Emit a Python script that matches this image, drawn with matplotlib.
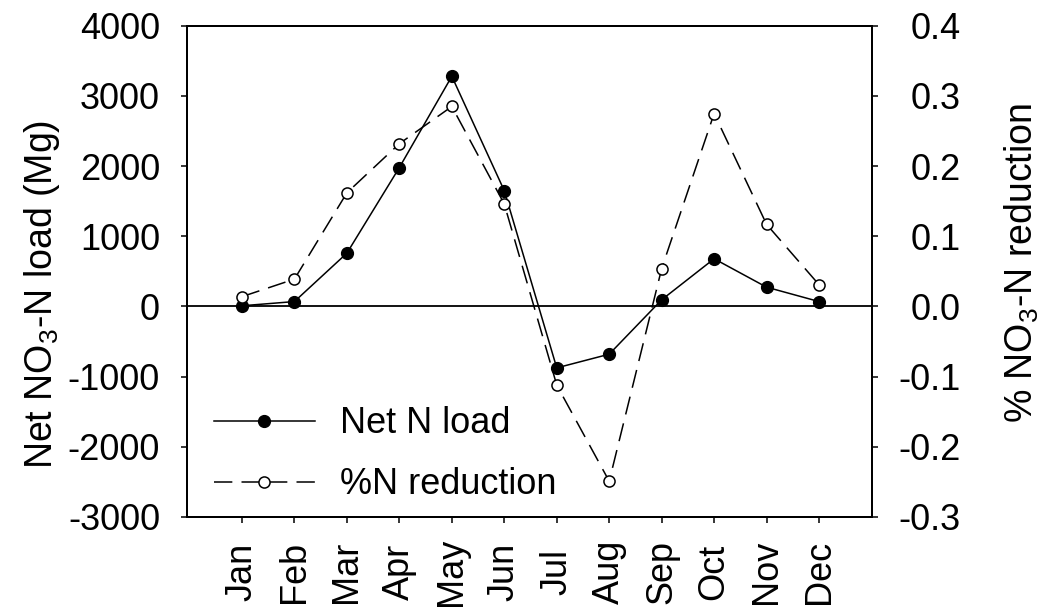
import matplotlib
matplotlib.use('Agg')
from matplotlib import pyplot as plt

months = ['Jan', 'Feb', 'Mar', 'Apr', 'May', 'Jun',
          'Jul', 'Aug', 'Sep', 'Oct', 'Nov', 'Dec']
net_load = [10, 70, 760, 1980, 3280, 1650, -875, -680, 95, 680, 275, 70]
pct_reduction = [0.014, 0.039, 0.162, 0.232, 0.285, 0.146,
                 -0.112, -0.249, 0.054, 0.275, 0.117, 0.031]
left_ticks = [-3000, -2000, -1000, 0, 1000, 2000, 3000, 4000]
right_ticks = [-0.3, -0.2, -0.1, 0.0, 0.1, 0.2, 0.3, 0.4]
right_tick_labels = ['-0.3', '-0.2', '-0.1', '0.0', '0.1', '0.2', '0.3', '0.4']


def main():
    plt.rcParams['font.family'] = ['Liberation Sans', 'DejaVu Sans']
    plt.rcParams['font.size'] = 26
    plt.rcParams['axes.linewidth'] = 1.4
    plt.rcParams['axes.unicode_minus'] = False
    plt.rcParams['mathtext.fontset'] = 'custom'
    plt.rcParams['mathtext.rm'] = 'Liberation Sans'

    fig = plt.figure(figsize=(10.5, 6.14), dpi=100)
    ax = fig.add_axes([0.178, 0.158, 0.652, 0.800])
    ax2 = ax.twinx()

    xs = list(range(len(months)))

    ax.axhline(0, color='black', lw=1.3, zorder=1)
    l1, = ax.plot(xs, net_load, '-o', color='black', lw=1.1,
                  markersize=8.5, label='Net N load', zorder=3)
    l2, = ax2.plot(xs, pct_reduction, '--o', color='black', lw=1.1,
                   markersize=8, markerfacecolor='white',
                   markeredgewidth=1.1, dashes=(12, 6),
                   label='%N reduction', zorder=3)

    ax.set_xlim(-1.05, 12)
    ax.set_ylim(-3000, 4000)
    ax2.set_ylim(-0.3, 0.4)
    ax.set_yticks(left_ticks)
    ax2.set_yticks(right_ticks)
    ax2.set_yticklabels(right_tick_labels, ha='right')
    ax.set_xticks(xs)
    ax.set_xticklabels(months, rotation=90, va='center')

    ax.tick_params(axis='y', direction='out', length=4.3, width=1.1, pad=15)
    ax.tick_params(axis='x', direction='out', length=4.3, width=1.1, pad=35)
    ax2.tick_params(axis='y', direction='out', length=4.3, width=1.1, pad=60)

    ax.set_ylabel('Net NO$_3$-N load (Mg)', fontsize=27)
    ax.yaxis.set_label_coords(-0.1825, 0.454)
    ax2.set_ylabel('% NO$_3$-N reduction', fontsize=27)
    ax2.yaxis.set_label_coords(1.191, 0.517)

    ax.legend(handles=[l1, l2], loc='lower left', frameon=False,
              bbox_to_anchor=(0.039, 0.03), borderaxespad=0, borderpad=0,
              handlelength=2.8, handletextpad=0.7, labelspacing=0.72,
              fontsize=26)

    fig.savefig('out.png', dpi=100)


if __name__ == '__main__':
    main()
